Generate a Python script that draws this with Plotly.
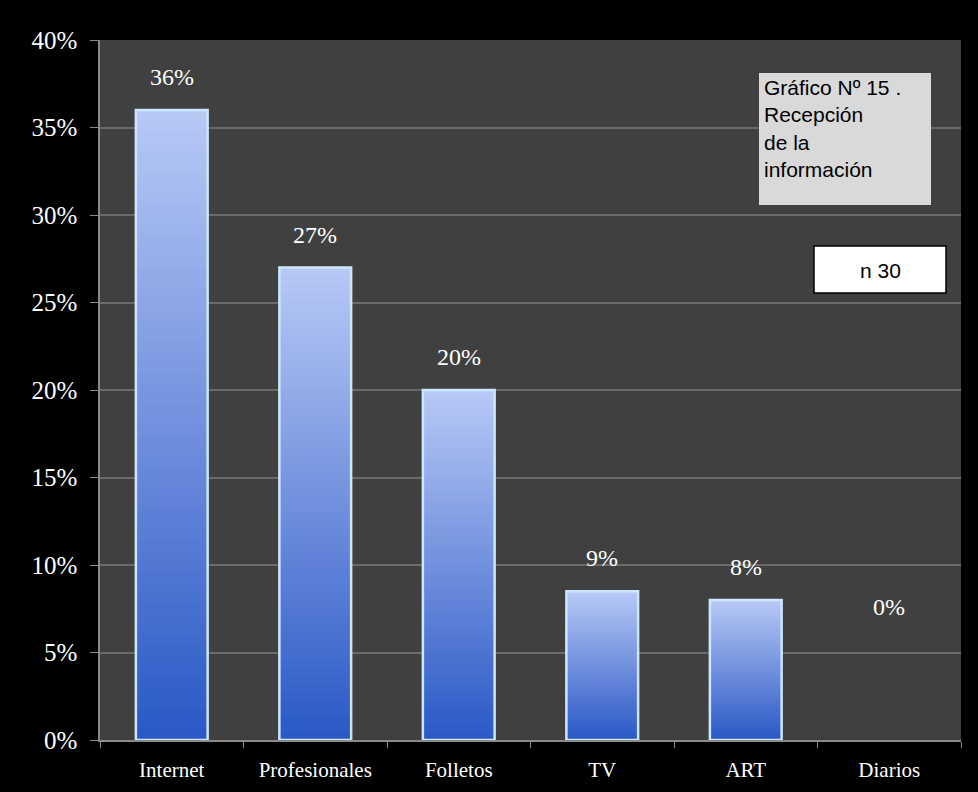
import plotly.graph_objects as go

categories = ["Internet", "Profesionales", "Folletos", "TV", "ART", "Diarios"]
values = [36, 27, 20, 8.5, 8, 0]
value_labels = ["36%", "27%", "20%", "9%", "8%", "0%"]
y_ticks = [0, 5, 10, 15, 20, 25, 30, 35, 40]
y_tick_labels = ["0%", "5%", "10%", "15%", "20%", "25%", "30%", "35%", "40%"]
box_title = "Gráfico Nº 15 .<br>Recepción<br>de la<br>información"
box_n = "n 30"

# styling
label_yshift = [18, 18, 18, 18, 18, 118]
top_rgb = (183, 200, 245)
bot_rgb = (40, 87, 197)
n_layers = 60

fig = go.Figure()

def mix(f):
    r = [int(round(b + (t - b) * f)) for t, b in zip(top_rgb, bot_rgb)]
    return f"rgb({r[0]},{r[1]},{r[2]})"

for k in range(n_layers):
    f = 1 - k / n_layers
    fig.add_trace(go.Bar(
        x=categories, y=[v * f for v in values],
        marker=dict(color=mix(f), line=dict(width=0)),
        width=0.5, hoverinfo="skip", showlegend=False))

fig.add_trace(go.Bar(
    x=categories, y=values,
    marker=dict(color="rgba(0,0,0,0)",
                line=dict(color="#cde6ff", width=[2.5 if v > 0 else 0 for v in values])),
    width=0.5, showlegend=False))

for c, v, t, s in zip(categories, values, value_labels, label_yshift):
    fig.add_annotation(x=c, y=v, text=t, showarrow=False, yanchor="bottom",
                       yshift=s, font=dict(family="Liberation Serif", size=24, color="white"))

# boxes
W, H = 861, 700
def px(x): return (x - 100) / W
def py(y): return (740 - y) / H

fig.add_shape(type="rect", xref="paper", yref="paper",
              x0=px(759), x1=px(931), y0=py(205), y1=py(73),
              fillcolor="#d9d9d9", line=dict(width=0), layer="above")
fig.add_annotation(xref="paper", yref="paper", x=px(762), y=py(74),
                   xanchor="left", yanchor="top", align="left", showarrow=False,
                   text=box_title, font=dict(family="Liberation Sans", size=21, color="black"))
fig.add_shape(type="rect", xref="paper", yref="paper",
              x0=px(814), x1=px(946), y0=py(293), y1=py(246),
              fillcolor="white", line=dict(width=1.5, color="black"), layer="above")
fig.add_annotation(xref="paper", yref="paper", x=px(880), y=py(270),
                   xanchor="center", yanchor="middle", showarrow=False,
                   text=box_n, font=dict(family="Liberation Sans", size=21, color="black"))

fig.update_layout(
    width=978, height=792,
    margin=dict(l=100, r=17, t=40, b=52),
    paper_bgcolor="black", plot_bgcolor="#404040",
    barmode="overlay", bargap=0.5,
    xaxis=dict(showgrid=False, showline=True, linecolor="#8a8a8a", linewidth=1.5,
               ticks="outside", ticklen=6, tickcolor="#8a8a8a", automargin=False,
               tickson="boundaries", ticklabelstandoff=10,
               tickfont=dict(family="Liberation Serif", size=21, color="white")),
    yaxis=dict(range=[0, 40], tickvals=y_ticks, ticktext=y_tick_labels,
               showgrid=True, gridcolor="#6a6a6a", gridwidth=1.5, automargin=False,
               showline=True, linecolor="#8a8a8a", linewidth=1.5,
               ticks="outside", ticklen=8, tickcolor="#8a8a8a",
               ticklabelstandoff=8, zeroline=False,
               tickfont=dict(family="Liberation Serif", size=25, color="white")),
)

fig.write_html("out.html", config={"displayModeBar": False},
               post_script="document.body.style.margin='0';document.body.style.background='black';")
